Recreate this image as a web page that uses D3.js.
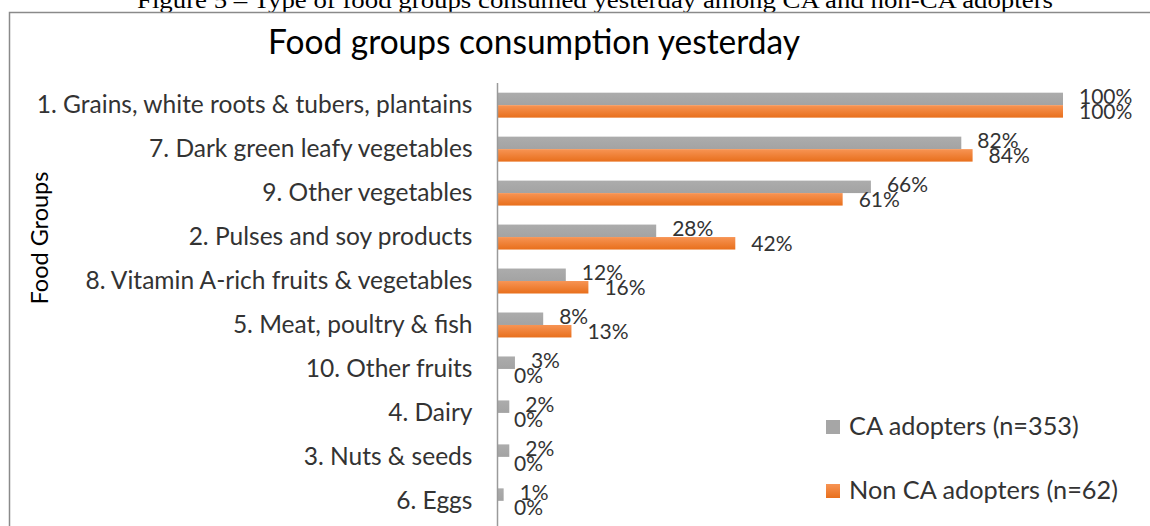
<!DOCTYPE html>
<html>
<head>
<meta charset="utf-8">
<script src="https://cdn.jsdelivr.net/npm/d3@7"></script>
<style>
  html, body { margin: 0; padding: 0; background: #fff; }
  svg { display: block; }
</style>
</head>
<body>
<svg id="chart" width="1150" height="526"></svg>
<script>
// Food groups and share of households that ate each group yesterday
const categories = [
  "1. Grains, white roots & tubers, plantains",
  "7. Dark green leafy vegetables",
  "9. Other vegetables",
  "2. Pulses and soy products",
  "8. Vitamin A-rich fruits & vegetables",
  "5. Meat, poultry & fish",
  "10. Other fruits",
  "4. Dairy",
  "3. Nuts & seeds",
  "6. Eggs"
];
const caAdopters    = [1.00, 0.82, 0.66, 0.28, 0.12, 0.08, 0.03, 0.02, 0.02, 0.01];
const nonCaAdopters = [1.00, 0.84, 0.61, 0.42, 0.16, 0.13, 0.00, 0.00, 0.00, 0.00];
const seriesNames = ["CA adopters (n=353)", "Non CA adopters (n=62)"];
const captionText = "Figure 5 \u2013 Type of food groups consumed yesterday among CA and non-CA adopters";
const titleText = "Food groups consumption yesterday";
const axisTitle = "Food Groups";

const svg = d3.select("#chart");
const FONT = "Lato, 'Open Sans', sans-serif";
const TEXT_COLOR = "#333";

// pick a font size so that a text node spans the wanted width
function fitFontSize(sel, baseSize, wanted) {
  const node = sel.node();
  const w = node.getComputedTextLength();
  const size = baseSize * wanted / w;
  sel.attr("font-size", size);
  return size;
}

// gradients for the bar fills
const defs = svg.append("defs");
const gOrange = defs.append("linearGradient").attr("id", "gradOrange")
  .attr("x1", 0).attr("y1", 0).attr("x2", 0).attr("y2", 1);
gOrange.append("stop").attr("offset", "0%").attr("stop-color", "#F79454");
gOrange.append("stop").attr("offset", "100%").attr("stop-color", "#E86F1C");
const gGray = defs.append("linearGradient").attr("id", "gradGray")
  .attr("x1", 0).attr("y1", 0).attr("x2", 0).attr("y2", 1);
gGray.append("stop").attr("offset", "0%").attr("stop-color", "#ACACAC");
gGray.append("stop").attr("offset", "100%").attr("stop-color", "#A3A3A3");

const series = [
  { key: "ca",  name: seriesNames[0], values: caAdopters,    fill: "url(#gradGray)",   swatch: "#A6A6A6" },
  { key: "non", name: seriesNames[1], values: nonCaAdopters, fill: "url(#gradOrange)", swatch: "url(#gradOrange)" }
];

// document caption above the chart frame
svg.append("text")
  .attr("x", 137).attr("y", 8)
  .attr("font-family", "'Liberation Serif', 'Times New Roman', serif")
  .attr("font-size", 24)
  .attr("fill", "#000")
  .attr("textLength", 916)
  .attr("lengthAdjust", "spacingAndGlyphs")
  .text(captionText);

// chart frame
svg.append("path")
  .attr("d", "M9.5,1000 V12.5 H1200")
  .attr("fill", "none")
  .attr("stroke", "#8a8a8a")
  .attr("stroke-width", 1.5);

// title
svg.append("text")
  .attr("x", 268).attr("y", 54)
  .attr("font-family", FONT)
  .attr("font-size", 34)
  .attr("fill", "#000")
  .attr("textLength", 532)
  .attr("lengthAdjust", "spacingAndGlyphs")
  .text(titleText);

// scales
const x = d3.scaleLinear().domain([0, 1]).range([498, 1063]);
const y = d3.scaleBand().domain(categories).range([83, 523])
  .paddingInner(0.432).paddingOuter(0.22);
const ySub = d3.scaleBand().domain(series.map(s => s.key)).range([0, y.bandwidth()]);

// bars
const groups = svg.append("g").selectAll("g")
  .data(categories)
  .join("g")
  .attr("transform", d => `translate(0,${y(d)})`);

series.forEach(s => {
  groups.append("rect")
    .attr("x", x(0))
    .attr("y", ySub(s.key))
    .attr("height", ySub.bandwidth())
    .attr("width", (d, i) => x(s.values[i]) - x(0))
    .attr("fill", s.fill);
});

// value labels
series.forEach((s, k) => {
  groups.append("text")
    .attr("x", (d, i) => x(s.values[i]) + 16)
    .attr("y", ySub(s.key) + ySub.bandwidth() / 2 + (k === 0 ? 5 : 8))
    .attr("font-family", FONT)
    .attr("font-size", 21)
    .attr("fill", TEXT_COLOR)
    .text((d, i) => d3.format(".0%")(s.values[i]));
});

// category axis
const yAxis = svg.append("g")
  .attr("transform", `translate(${x(0) - 0.5},0)`)
  .call(d3.axisLeft(y).tickSize(0).tickPadding(25));
yAxis.select(".domain")
  .attr("d", `M0,83V526`)
  .attr("stroke", "#9a9a9a")
  .attr("stroke-width", 1.5);
const tickText = yAxis.selectAll(".tick text")
  .attr("font-family", FONT)
  .attr("font-size", 20)
  .attr("fill", TEXT_COLOR)
  .attr("dy", "0.32em");
// size the category labels from the longest one
const longest = tickText.filter(d => d === categories[0]);
const tickSize = fitFontSize(longest, 20, 436);
tickText.attr("font-size", tickSize);

// axis title
const yTitle = svg.append("text")
  .attr("transform", "translate(48,238) rotate(-90)")
  .attr("text-anchor", "middle")
  .attr("font-family", FONT)
  .attr("font-size", 20)
  .attr("fill", "#000")
  .text(axisTitle);
fitFontSize(yTitle, 20, 133);

// legend
const legend = svg.append("g").selectAll("g")
  .data(series)
  .join("g")
  .attr("transform", (d, i) => `translate(826,${420 + i * 64})`);
legend.append("rect")
  .attr("width", 14).attr("height", 14)
  .attr("fill", d => d.swatch);
const legendText = legend.append("text")
  .attr("x", 23).attr("y", 15)
  .attr("font-family", FONT)
  .attr("font-size", 22)
  .attr("fill", TEXT_COLOR)
  .text(d => d.name);
const legendSize = fitFontSize(legendText.filter((d, i) => i === 0), 22, 230);
legendText.attr("font-size", legendSize);
</script>
</body>
</html>
